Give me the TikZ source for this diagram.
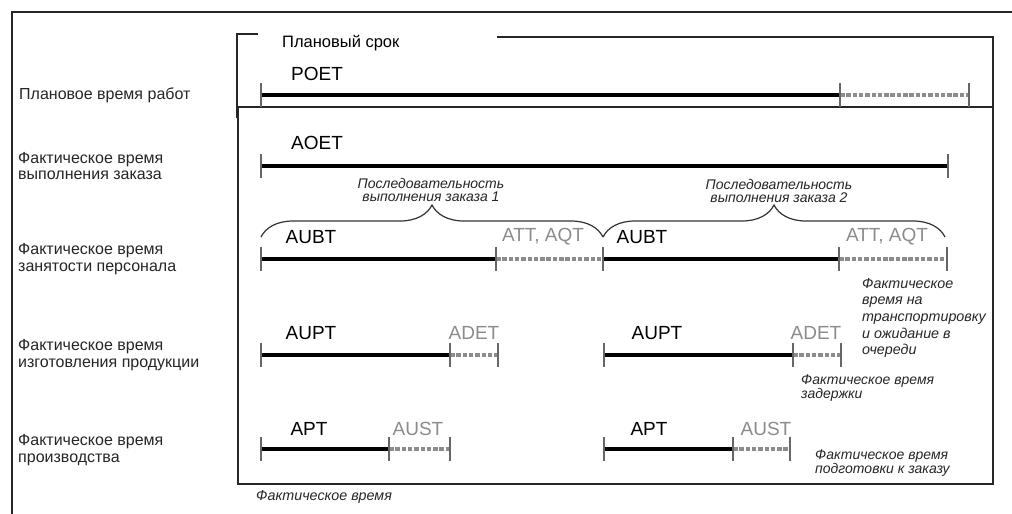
\documentclass[tikz,border=0pt]{standalone}
\usepackage{fontspec}
\setmainfont{Liberation Sans}
\usetikzlibrary{decorations.pathreplacing}
\begin{document}
\begin{tikzpicture}[x=1pt,y=-1pt,
  frame/.style={line width=1.4pt, draw=black!85},
  solidseg/.style={line width=4pt, draw=black},
  dashseg/.style={line width=3.6pt, draw=black!45, dash pattern=on 4.5pt off 1.8pt},
  tick/.style={line width=1.9pt, draw=black!60},
  bracestyle/.style={line width=1.2pt, draw=black!80, decorate, decoration={brace, amplitude=32pt}},
  rowlbl/.style={anchor=west, align=left, font=\fontsize{16}{16.5}\selectfont, inner sep=0pt, text=black!85},
  code/.style={font=\fontsize{19}{21}\selectfont, inner sep=0pt},
  gcode/.style={code, text=black!45},
  note/.style={anchor=west, align=left, font=\fontsize{14.3}{16.7}\selectfont\itshape, inner sep=0pt, text=black!85},
  tightnote/.style={note, font=\fontsize{14}{13}\selectfont\itshape},
]
\useasboundingbox (0,0) rectangle (1012,514);
\fill[white] (0,0) rectangle (1012,514);

% outer frame
\draw[frame] (1012,12) -- (12,12) -- (12,514);

% planned term bracket and actual time box
\node[anchor=west, inner sep=0pt, font=\fontsize{16.5}{18}\selectfont] (plan) at (282,43) {Плановый срок};
\draw[frame] (258,34) -- (237,34) -- (237,118);
\draw[frame] (497,37) -- (993,37) -- (993,108);
\draw[frame] (238,107) rectangle (993,484);

% row labels
\node[rowlbl] (l1) at (19,95) {Плановое время работ};
\node[rowlbl] (l2) at (18,166) {Фактическое время\\выполнения заказа};
\node[rowlbl] (l3) at (18,259) {Фактическое время\\занятости персонала};
\node[rowlbl] (l4) at (18,355) {Фактическое время\\изготовления продукции};
\node[rowlbl] (l5) at (18,450) {Фактическое время\\производства};

% POET
\coordinate (poA) at (261,95); \coordinate (poB) at (840,95); \coordinate (poC) at (969,95);
\draw[solidseg] (poA) -- (poB); \draw[dashseg] (poB) -- (poC);
\foreach \p in {poA,poB,poC} \draw[tick] ([yshift=12pt]\p) -- ([yshift=-12pt]\p);
\node[code] (tPOET) at (317,74) {POET};

% AOET
\coordinate (aoA) at (261,166); \coordinate (aoB) at (948,166);
\draw[solidseg] (aoA) -- (aoB);
\foreach \p in {aoA,aoB} \draw[tick] ([yshift=12pt]\p) -- ([yshift=-12pt]\p);
\node[code] (tAOET) at (317,143) {AOET};

% AUBT row
\coordinate (ubA) at (261,259); \coordinate (ubB) at (496,259); \coordinate (ubC) at (603,259);
\coordinate (ubD) at (839,259); \coordinate (ubE) at (947,259);
\draw[solidseg] (ubA) -- (ubB); \draw[dashseg] (ubB) -- (ubC);
\draw[solidseg] (ubC) -- (ubD); \draw[dashseg] (ubD) -- (ubE);
\foreach \p in {ubA,ubB,ubC,ubD,ubE} \draw[tick] ([yshift=12pt]\p) -- ([yshift=-12pt]\p);
\node[code] (tAUBT1) at (311,237) {AUBT};
\node[gcode] (tATT1) at (543,237) {ATT, AQT};
\node[code] (tAUBT2) at (642,237) {AUBT};
\node[gcode] (tATT2) at (887,237) {ATT, AQT};

% braces
\coordinate (brA) at (261,237); \coordinate (brB) at (603,237); \coordinate (brC) at (945,237);
\draw[bracestyle] (brA) -- (brB);
\draw[bracestyle] (brB) -- (brC);
\node[font=\fontsize{14}{12.5}\selectfont\itshape, align=center, inner sep=0pt, text=black!85] (seq1) at (431,190) {Последовательность\\выполнения заказа 1};
\node[font=\fontsize{14}{12.5}\selectfont\itshape, align=center, inner sep=0pt, text=black!85] (seq2) at (779,191) {Последовательность\\выполнения заказа 2};

% AUPT row
\coordinate (upA) at (261,355); \coordinate (upB) at (450,355); \coordinate (upC) at (498,355);
\coordinate (upD) at (604,355); \coordinate (upE) at (793,355); \coordinate (upF) at (841,355);
\draw[solidseg] (upA) -- (upB); \draw[dashseg] (upB) -- (upC);
\draw[solidseg] (upD) -- (upE); \draw[dashseg] (upE) -- (upF);
\foreach \p in {upA,upB,upC,upD,upE,upF} \draw[tick] ([yshift=12pt]\p) -- ([yshift=-12pt]\p);
\node[code] (tAUPT1) at (311,333) {AUPT};
\node[gcode] (tADET1) at (474,333) {ADET};
\node[code] (tAUPT2) at (657,333) {AUPT};
\node[gcode] (tADET2) at (816,333) {ADET};

% APT row
\coordinate (apA) at (261,449); \coordinate (apB) at (389,449); \coordinate (apC) at (450,449);
\coordinate (apD) at (604,449); \coordinate (apE) at (733,449); \coordinate (apF) at (790,449);
\draw[solidseg] (apA) -- (apB); \draw[dashseg] (apB) -- (apC);
\draw[solidseg] (apD) -- (apE); \draw[dashseg] (apE) -- (apF);
\foreach \p in {apA,apB,apC,apD,apE,apF} \draw[tick] ([yshift=12pt]\p) -- ([yshift=-12pt]\p);
\node[code] (tAPT1) at (309,429) {APT};
\node[gcode] (tAUST1) at (418,429) {AUST};
\node[code] (tAPT2) at (649,429) {APT};
\node[gcode] (tAUST2) at (766,429) {AUST};

% notes
\node[note, anchor=north west] (n1) at (862,278) {Фактическое\\время на\\транспортировку\\и ожидание в\\очереди};
\node[tightnote, anchor=north west] (n2) at (801,375) {Фактическое время\\задержки};
\node[tightnote, anchor=north west] (n3) at (815,450) {Фактическое время\\подготовки к заказу};
\node[note] (n4) at (256,497) {Фактическое время};
\end{tikzpicture}
\end{document}
